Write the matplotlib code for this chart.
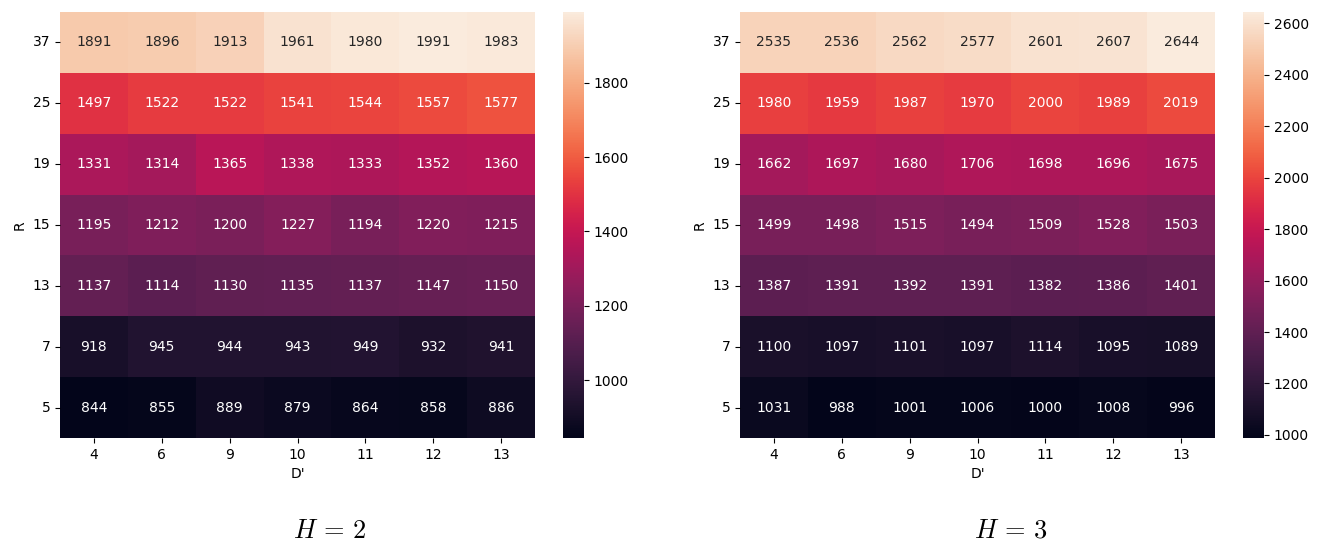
import numpy as np
import pandas as pd
import matplotlib
matplotlib.use("Agg")
import matplotlib.pyplot as plt
import seaborn as sns

plt.rcParams['mathtext.fontset'] = 'cm'

r_values = [37, 25, 19, 15, 13, 7, 5]
d_values = [4, 6, 9, 10, 11, 12, 13]

h2 = [
    [1891, 1896, 1913, 1961, 1980, 1991, 1983],
    [1497, 1522, 1522, 1541, 1544, 1557, 1577],
    [1331, 1314, 1365, 1338, 1333, 1352, 1360],
    [1195, 1212, 1200, 1227, 1194, 1220, 1215],
    [1137, 1114, 1130, 1135, 1137, 1147, 1150],
    [918, 945, 944, 943, 949, 932, 941],
    [844, 855, 889, 879, 864, 858, 886],
]
h3 = [
    [2535, 2536, 2562, 2577, 2601, 2607, 2644],
    [1980, 1959, 1987, 1970, 2000, 1989, 2019],
    [1662, 1697, 1680, 1706, 1698, 1696, 1675],
    [1499, 1498, 1515, 1494, 1509, 1528, 1503],
    [1387, 1391, 1392, 1391, 1382, 1386, 1401],
    [1100, 1097, 1101, 1097, 1114, 1095, 1089],
    [1031, 988, 1001, 1006, 1000, 1008, 996],
]

fig = plt.figure(figsize=(13.2, 5.42), dpi=100)

panels = [
    (h2, r"$H\,=\,2$", 60, 563, 330),
    (h3, r"$H\,=\,3$", 740, 1243, 1011),
]
for data, title, left, cleft, tx in panels:
    ax = fig.add_axes([left / 1320, 104 / 542, 475 / 1320, 426 / 542])
    cax = fig.add_axes([cleft / 1320, 104 / 542, 21 / 1320, 426 / 542])
    df = pd.DataFrame(data, index=r_values, columns=d_values)
    sns.heatmap(df, annot=True, fmt="d", ax=ax, cbar_ax=cax,
                annot_kws={"fontsize": 10})
    ax.set_xlabel("D'")
    ax.set_ylabel("R")
    ax.tick_params(axis='y', rotation=0)
    fig.text(tx / 1320, 11 / 542, title, ha='center', va='center', fontsize=19)

fig.savefig("out.png", dpi=100)
